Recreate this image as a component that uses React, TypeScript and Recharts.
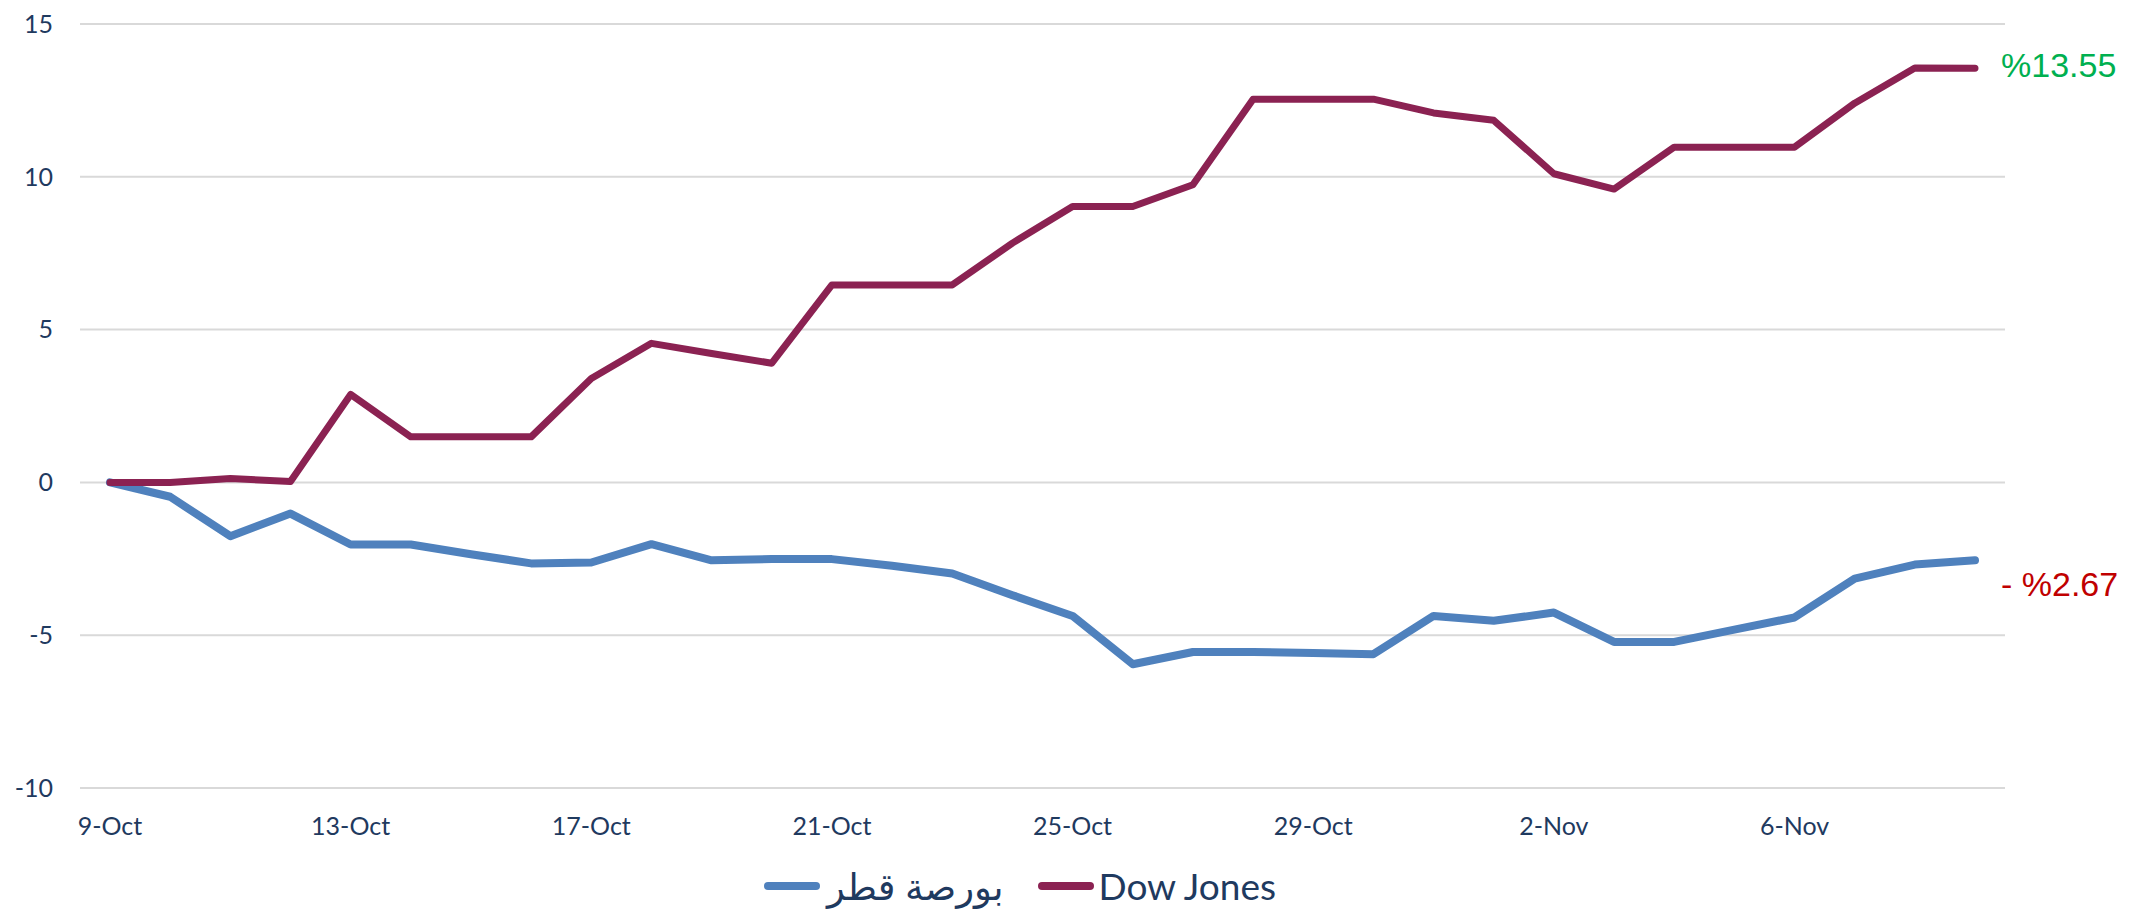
import { LineChart, Line, XAxis, YAxis, CartesianGrid, Legend } from 'recharts'

const dates = [
  '9-Oct', '10-Oct', '11-Oct', '12-Oct', '13-Oct', '14-Oct', '15-Oct', '16-Oct',
  '17-Oct', '18-Oct', '19-Oct', '20-Oct', '21-Oct', '22-Oct', '23-Oct', '24-Oct',
  '25-Oct', '26-Oct', '27-Oct', '28-Oct', '29-Oct', '30-Oct', '31-Oct', '1-Nov',
  '2-Nov', '3-Nov', '4-Nov', '5-Nov', '6-Nov', '7-Nov', '8-Nov', '9-Nov',
]

// بورصة قطر
const qatar = [
  0, -0.47, -1.76, -1.02, -2.03, -2.03, -2.35, -2.65,
  -2.62, -2.02, -2.55, -2.51, -2.51, -2.73, -2.98, -3.69,
  -4.37, -5.95, -5.55, -5.55, -5.58, -5.62, -4.37, -4.53,
  -4.26, -5.22, -5.22, -4.82, -4.42, -3.15, -2.69, -2.55,
]

const dow = [
  0, 0, 0.13, 0.03, 2.88, 1.49, 1.49, 1.49,
  3.4, 4.55, 4.22, 3.9, 6.46, 6.46, 6.46, 7.83,
  9.03, 9.03, 9.74, 12.54, 12.54, 12.54, 12.09, 11.85,
  10.1, 9.6, 10.97, 10.97, 10.97, 12.41, 13.56, 13.55,
]

const yTicks = [-10, -5, 0, 5, 10, 15]

const qatarName = 'بورصة قطر'
const dowName = 'Dow Jones'
const qatarLabel = '- %2.67'
const dowLabel = '%13.55'

const data = dates.map((d, i) => ({ date: d, qatar: qatar[i], dow: dow[i] }))

const BLUE = '#4F81BD'
const WINE = '#8B2252'
const TEXT = '#1F3A5F'
const FONT = "Lato, 'DejaVu Sans', sans-serif"

const last = dates.length - 1

function endLabel(text: string, color: string, dy: number) {
  return (p: any) => {
    if (p.index !== last) return <g />
    return (
      <text
        x={p.x + 26}
        y={p.y + dy}
        fill={color}
        fontSize={34}
        fontFamily="'Liberation Sans', Arial, sans-serif"
        dominantBaseline="central"
        direction="ltr"
      >
        {text}
      </text>
    )
  }
}

function LegendBox() {
  const item = (color: string, label: string, gap: number) => (
    <div style={{ display: 'flex', alignItems: 'center' }}>
      <div style={{ width: 56, height: 8, borderRadius: 4, background: color, marginRight: gap }} />
      <span style={{ fontSize: 37, color: TEXT, fontFamily: FONT, lineHeight: '40px' }}>{label}</span>
    </div>
  )
  return (
    <div style={{ display: 'flex', justifyContent: 'center', gap: 34, paddingRight: 94 }}>
      {item(BLUE, qatarName, 7)}
      {item(WINE, dowName, 5)}
    </div>
  )
}

export default function App() {
  return (
    <div>
      <style>{'body{margin:0;background:#fff}'}</style>
      <LineChart width={2134} height={910} data={data} margin={{ top: 24, right: 129, bottom: 0, left: 0 }}>
        <CartesianGrid vertical={false} stroke="#D9D9D9" strokeWidth={2} />
        <XAxis
          dataKey="date"
          interval={3}
          padding={{ left: 30, right: 30 }}
          axisLine={false}
          tickLine={false}
          height={122}
          tickSize={6}
          tickMargin={23}
          tick={{ fontSize: 25, fill: TEXT, fontFamily: FONT }}
        />
        <YAxis
          domain={[-10, 15]}
          ticks={yTicks}
          width={80}
          axisLine={false}
          tickLine={false}
          tickSize={6}
          tickMargin={21}
          tick={{ fontSize: 25, fill: TEXT, fontFamily: FONT }}
        />
        <Legend verticalAlign="middle" wrapperStyle={{ top: 866, left: 0, width: 2134 }} content={() => <LegendBox />} />
        <Line
          dataKey="qatar"
          name={qatarName}
          stroke={BLUE}
          strokeWidth={8}
          dot={false}
          strokeLinejoin="round"
          strokeLinecap="round"
          isAnimationActive={false}
          label={endLabel(qatarLabel, '#C00000', 24)}
        />
        <Line
          dataKey="dow"
          name={dowName}
          stroke={WINE}
          strokeWidth={7}
          dot={false}
          strokeLinejoin="round"
          strokeLinecap="round"
          isAnimationActive={false}
          label={endLabel(dowLabel, '#00B050', -3)}
        />
      </LineChart>
    </div>
  )
}
